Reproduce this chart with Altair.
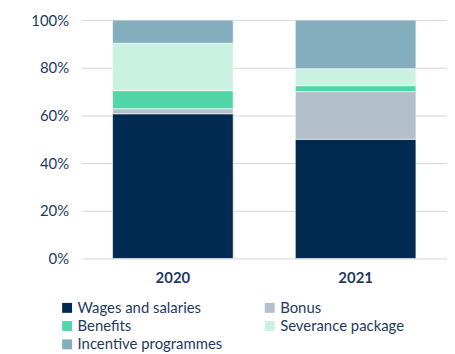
import altair as alt
import pandas as pd

years = ["2020", "2021"]
categories = ["Wages and salaries", "Bonus", "Benefits", "Severance package", "Incentive programmes"]
values_2020 = [60.7, 2.1, 7.6, 19.9, 9.7]
values_2021 = [50.0, 20.0, 2.5, 7.1, 20.4]
colors = ["#002a52", "#b3bfca", "#52d6a8", "#c9f2e3", "#84aebe"]
# legend entries (column-major fill giving the row-major look of the reference)
legend_order = ["Wages and salaries", "Benefits", "Incentive programmes", "Bonus", "Severance package"]

rows = []
for yr, vals in zip(years, [values_2020, values_2021]):
    for i, (c, v) in enumerate(zip(categories, vals)):
        rows.append({"year": yr, "category": c, "value": v, "idx": i})
df = pd.DataFrame(rows)

text_color = "#1f3a60"
font = "Lato"

chart = alt.Chart(df).mark_bar(stroke="white", strokeWidth=0.6).encode(
    x=alt.X("year:N", title=None,
            scale=alt.Scale(paddingInner=0.34, paddingOuter=0.17),
            axis=alt.Axis(labelAngle=0, labelFontWeight="bold", labelFontSize=15,
                          labelColor=text_color, labelFont=font, ticks=False,
                          domain=False, labelPadding=12)),
    y=alt.Y("value:Q", stack="normalize", title=None,
            scale=alt.Scale(domain=[0, 1]),
            axis=alt.Axis(format=".0%", values=[0, 0.2, 0.4, 0.6, 0.8, 1.0],
                          labelFontSize=15, labelColor=text_color, labelFont=font,
                          ticks=False, domain=False, labelPadding=13,
                          gridColor="#d6d6d6", gridWidth=1)),
    color=alt.Color("category:N", title=None,
                    scale=alt.Scale(domain=categories, range=colors),
                    legend=alt.Legend(orient="none", legendX=-22, legendY=282,
                                      columns=2, values=legend_order,
                                      symbolType="square", symbolSize=100,
                                      symbolStrokeWidth=0, labelFontSize=15,
                                      labelColor=text_color, labelFont=font,
                                      columnPadding=40, rowPadding=2.5, labelOffset=3,
                                      padding=0)),
    order=alt.Order("idx:Q", sort="ascending"),
).properties(
    width=368, height=240,
    autosize=alt.AutoSizeParams(type="none"),
    padding={"left": 74, "top": 11, "right": 0, "bottom": 94},
).configure_view(stroke=None)

chart.save("out.html", embed_options={"renderer": "svg", "actions": False})
